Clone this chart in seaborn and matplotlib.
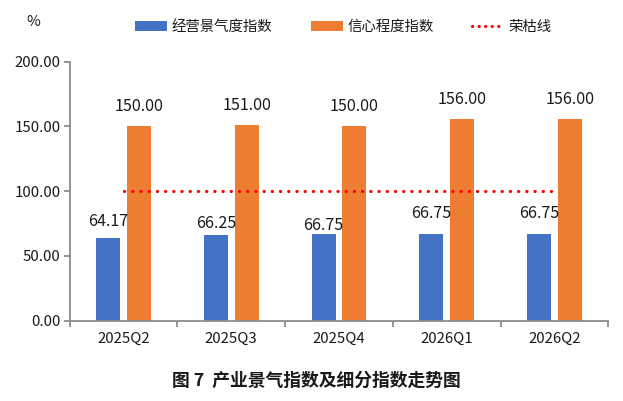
import matplotlib
matplotlib.use("Agg")
import matplotlib.pyplot as plt
import seaborn as sns
import pandas as pd
from matplotlib.patches import Patch
from matplotlib.lines import Line2D

quarters = ["2025Q2", "2025Q3", "2025Q4", "2026Q1", "2026Q2"]
series_names = ["经营景气度指数", "信心程度指数"]
business_index = [64.17, 66.25, 66.75, 66.75, 66.75]
confidence_index = [150.00, 151.00, 150.00, 156.00, 156.00]
threshold_name = "荣枯线"
threshold = [100, 100, 100, 100, 100]
y_ticks = [0, 50, 100, 150, 200]
title = "图 7  产业景气指数及细分指数走势图"
unit_label = "%"

BLUE = "#4472C4"
ORANGE = "#ED7D31"
RED = "#FF0000"
TXT = "#1a1a1a"
GRID = "#8c8c8c"

sns.set_theme(style="white")
plt.rcParams["font.family"] = ["Noto Sans CJK SC", "DejaVu Sans"]

df = pd.DataFrame({
    "quarter": quarters * 2,
    "series": [series_names[0]] * len(quarters) + [series_names[1]] * len(quarters),
    "value": business_index + confidence_index,
})

fig = plt.figure(figsize=(6.23, 4.01), dpi=100)
W, H = 623, 401
ax = fig.add_axes([69.7 / W, 1 - 320.7 / H, (608.3 - 69.7) / W, (320.7 - 61.7) / H])

sns.barplot(data=df, x="quarter", y="value", hue="series", order=quarters,
            hue_order=series_names, palette=[BLUE, ORANGE], width=0.57, gap=0.22,
            saturation=1, errorbar=None, ax=ax, legend=False, linewidth=0,
            edgecolor="none")

xs = list(range(len(quarters)))
ax.plot(xs, threshold, color=RED, lw=2.3, linestyle=(0, (0.05, 2.52)),
        dash_capstyle="round", solid_capstyle="round", zorder=3)

ax.set_xlim(-0.5, len(quarters) - 0.5)
ax.set_ylim(0, 200)
ax.set_yticks(y_ticks)
ax.set_yticklabels([f"{v:.2f}" for v in y_ticks])
ax.set_xlabel("")
ax.set_ylabel("")

for s in ["top", "right"]:
    ax.spines[s].set_visible(False)
for s in ["left", "bottom"]:
    ax.spines[s].set_color(GRID)
    ax.spines[s].set_linewidth(1.3)

ax.tick_params(axis="y", which="major", length=4.5, width=1.3, color=GRID,
               labelsize=10.8, labelcolor=TXT, pad=2, left=True)
ax.tick_params(axis="x", which="major", length=0, labelsize=10.8,
               labelcolor=TXT, pad=8)
ax.set_xticks([x + 0.5 for x in range(-1, len(quarters))], minor=True)
ax.tick_params(axis="x", which="minor", length=4.5, width=1.3, color=GRID,
               bottom=True)

# value labels
px = 72.0 / 100.0  # points per pixel
blue_off = [16.5, 11, 9, 20.6, 20.6]
orange_off = [19.5] * 5
bars = [b for b in ax.patches if b.get_height() > 0]
blue_bars = bars[:5]
orange_bars = bars[5:10]
for b, v, o in zip(blue_bars, business_index, blue_off):
    ax.annotate(f"{v:.2f}", (b.get_x() + b.get_width() / 2, b.get_height()),
                xytext=(0, o * px), textcoords="offset points",
                ha="center", va="center", fontsize=11.6, color=TXT)
for b, v, o in zip(orange_bars, confidence_index, orange_off):
    ax.annotate(f"{v:.2f}", (b.get_x() + b.get_width() / 2, b.get_height()),
                xytext=(0, o * px), textcoords="offset points",
                ha="center", va="center", fontsize=11.6, color=TXT)

handles = [Patch(facecolor=BLUE, edgecolor="none"),
           Patch(facecolor=ORANGE, edgecolor="none"),
           Line2D([0, 1], [0, 0], color=RED, lw=2.3, linestyle=(0, (0.05, 2.0)),
                  dash_capstyle="round")]
fig.legend(handles, series_names + [threshold_name], loc="center",
           bbox_to_anchor=(343.5 / W, 1 - 27 / H), ncol=3, frameon=False,
           fontsize=10.4, handlelength=2.2, handleheight=0.62,
           handletextpad=0.3, columnspacing=2.7, labelcolor=TXT)

fig.text(33.5 / W, 1 - 22 / H, unit_label, ha="center", va="center",
         fontsize=10.8, color=TXT)
fig.text(316 / W, 1 - 380.7 / H, title, ha="center", va="center",
         fontsize=12.8, fontweight="bold", color=TXT)

fig.savefig("out.png", dpi=100)
